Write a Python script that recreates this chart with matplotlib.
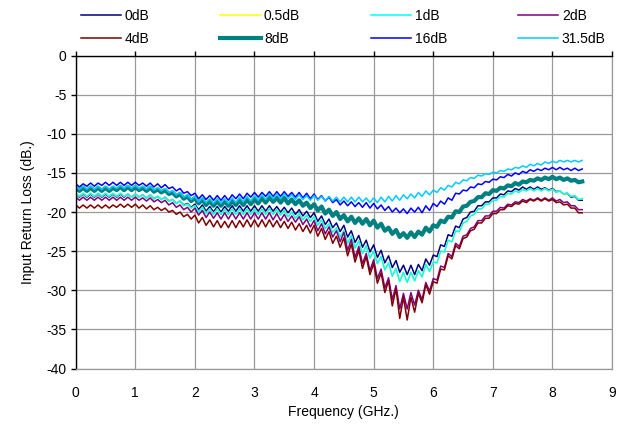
import numpy as np
import matplotlib.pyplot as plt

plt.rcParams['font.family'] = ['Liberation Sans', 'DejaVu Sans']
plt.rcParams['axes.unicode_minus'] = False

# frequency points (GHz), one every 1/16 GHz from 0 to 8.5
freq = np.linspace(0, 8.5, 137)

# input return loss (dB), one row per GHz
loss_0db = [
    -17.7, -18.1, -17.7, -18.1, -17.7, -18.1, -17.7, -18.1, -17.7, -18.1, -17.7, -18.1, -17.7, -18.1, -17.7, -18.1,
    -17.7, -18.1, -17.8, -18.2, -17.8, -18.3, -18.0, -18.4, -18.1, -18.6, -18.4, -18.9, -18.6, -19.1, -18.9, -19.4,
    -19.0, -19.7, -19.1, -19.9, -19.3, -20.0, -19.3, -20.0, -19.3, -19.9, -19.2, -19.9, -19.2, -19.9, -19.2, -19.9,
    -19.2, -19.9, -19.2, -19.9, -19.2, -19.9, -19.3, -20.0, -19.4, -20.1, -19.5, -20.3, -19.7, -20.5, -19.9, -20.7,
    -20.1, -21.2, -20.5, -21.6, -20.9, -22.0, -21.4, -22.5, -21.7, -23.2, -22.4, -23.9, -23.0, -24.5, -23.6, -25.1,
    -24.2, -25.8, -24.9, -26.5, -25.6, -27.1, -26.2, -27.7, -26.8, -28.0, -26.8, -28.0, -26.7, -27.5, -26.0, -26.8,
    -25.5, -25.7, -24.2, -24.4, -22.9, -23.1, -21.8, -22.0, -20.9, -20.7, -20.0, -19.9, -19.2, -19.2, -18.7, -18.7,
    -18.2, -18.2, -17.7, -17.8, -17.3, -17.4, -17.0, -17.2, -16.8, -17.1, -16.8, -17.1, -16.8, -17.1, -16.9, -17.2,
    -17.0, -17.4, -17.3, -17.7, -17.6, -18.1, -18.0, -18.5,
    -18.5,
]

loss_1db = [
    -17.6, -18.0, -17.6, -18.0, -17.6, -18.0, -17.6, -18.0, -17.6, -18.0, -17.6, -18.0, -17.6, -18.0, -17.7, -18.1,
    -17.7, -18.1, -17.8, -18.2, -17.8, -18.3, -18.0, -18.4, -18.1, -18.6, -18.4, -18.9, -18.6, -19.2, -19.0, -19.5,
    -19.2, -20.0, -19.4, -20.2, -19.6, -20.3, -19.6, -20.3, -19.7, -20.3, -19.6, -20.3, -19.6, -20.3, -19.6, -20.3,
    -19.6, -20.3, -19.6, -20.3, -19.6, -20.3, -19.7, -20.4, -19.8, -20.6, -20.0, -20.8, -20.2, -21.0, -20.4, -21.2,
    -20.6, -21.7, -21.0, -22.1, -21.5, -22.6, -22.0, -23.2, -22.4, -24.0, -23.0, -24.6, -23.7, -25.3, -24.3, -25.9,
    -25.0, -26.6, -25.7, -27.4, -26.5, -28.2, -27.2, -28.9, -27.7, -29.0, -27.7, -28.8, -27.5, -28.3, -26.7, -27.6,
    -26.4, -26.5, -25.0, -25.1, -23.6, -23.8, -22.4, -22.5, -21.4, -21.2, -20.5, -20.3, -19.6, -19.6, -19.0, -19.0,
    -18.5, -18.5, -18.0, -18.1, -17.6, -17.7, -17.3, -17.5, -17.1, -17.3, -17.0, -17.3, -17.0, -17.3, -17.0, -17.3,
    -17.1, -17.5, -17.3, -17.7, -17.6, -18.0, -17.9, -18.4,
    -18.3,
]

# the 0.5dB trace sits exactly under the 1dB trace (no yellow is visible)
loss_05db = list(loss_1db)

loss_2db = [
    -18.1, -18.5, -18.1, -18.5, -18.1, -18.5, -18.1, -18.5, -18.1, -18.5, -18.1, -18.5, -18.1, -18.5, -18.1, -18.5,
    -18.1, -18.5, -18.2, -18.6, -18.2, -18.7, -18.4, -18.8, -18.5, -19.1, -18.8, -19.4, -19.1, -19.7, -19.4, -20.0,
    -19.5, -20.4, -19.8, -20.7, -20.0, -20.8, -20.1, -20.9, -20.1, -20.9, -20.1, -20.9, -20.1, -20.9, -20.1, -20.9,
    -20.1, -20.9, -20.1, -20.9, -20.1, -21.0, -20.2, -21.1, -20.3, -21.2, -20.5, -21.3, -20.6, -21.6, -20.9, -21.9,
    -21.1, -22.4, -21.5, -22.8, -21.9, -23.2, -22.4, -23.8, -22.6, -24.9, -23.5, -25.8, -24.4, -26.6, -25.3, -27.5,
    -26.1, -28.5, -27.3, -29.7, -28.4, -31.2, -29.4, -32.4, -30.4, -32.4, -30.3, -31.9, -30.0, -31.2, -29.0, -30.1,
    -28.5, -28.7, -26.9, -27.1, -25.3, -25.7, -24.0, -24.4, -23.1, -22.9, -22.1, -21.9, -21.1, -21.1, -20.5, -20.5,
    -19.9, -19.9, -19.4, -19.5, -19.0, -19.1, -18.7, -18.8, -18.4, -18.6, -18.3, -18.5, -18.2, -18.5, -18.2, -18.5,
    -18.2, -18.6, -18.4, -18.8, -18.7, -19.2, -19.2, -19.7,
    -19.7,
]

loss_4db = [
    -19.1, -19.5, -19.1, -19.5, -19.1, -19.5, -19.1, -19.5, -19.1, -19.5, -19.1, -19.4, -19.0, -19.4, -19.0, -19.4,
    -19.0, -19.5, -19.1, -19.6, -19.2, -19.7, -19.4, -19.8, -19.5, -20.0, -19.8, -20.3, -20.0, -20.6, -20.3, -20.9,
    -20.4, -21.4, -20.7, -21.7, -21.0, -21.9, -21.1, -22.0, -21.2, -22.0, -21.1, -22.0, -21.1, -21.9, -21.0, -21.9,
    -21.0, -21.9, -21.0, -21.9, -21.0, -21.9, -21.1, -22.0, -21.2, -22.1, -21.3, -22.3, -21.5, -22.5, -21.7, -22.7,
    -21.7, -23.1, -22.1, -23.5, -22.5, -24.0, -23.1, -24.5, -23.3, -25.6, -24.1, -26.4, -24.9, -27.2, -25.7, -28.0,
    -26.6, -29.1, -27.8, -30.3, -28.8, -32.0, -29.8, -33.6, -30.9, -33.8, -30.9, -32.8, -30.4, -31.6, -29.3, -30.5,
    -28.9, -29.1, -27.3, -27.4, -25.6, -26.0, -24.3, -24.7, -23.4, -23.2, -22.4, -22.2, -21.4, -21.4, -20.8, -20.8,
    -20.2, -20.2, -19.7, -19.7, -19.2, -19.3, -18.9, -19.0, -18.6, -18.8, -18.4, -18.6, -18.3, -18.6, -18.3, -18.6,
    -18.4, -18.8, -18.7, -19.1, -19.0, -19.5, -19.5, -20.1,
    -20.1,
]

loss_8db = [
    -16.9, -17.3, -16.9, -17.3, -16.9, -17.3, -16.9, -17.3, -16.9, -17.3, -16.9, -17.2, -16.8, -17.2, -16.8, -17.2,
    -16.8, -17.2, -16.9, -17.3, -16.9, -17.4, -17.1, -17.5, -17.2, -17.7, -17.5, -18.0, -17.7, -18.3, -18.0, -18.6,
    -18.2, -18.9, -18.4, -19.1, -18.6, -19.2, -18.6, -19.2, -18.6, -19.2, -18.6, -19.1, -18.5, -19.1, -18.4, -19.0,
    -18.3, -18.9, -18.2, -18.8, -18.1, -18.7, -18.2, -18.8, -18.2, -18.9, -18.4, -19.0, -18.5, -19.2, -18.8, -19.5,
    -19.0, -19.8, -19.3, -20.2, -19.7, -20.5, -20.0, -20.9, -20.4, -21.2, -20.6, -21.4, -20.8, -21.5, -20.9, -21.7,
    -21.1, -22.0, -21.5, -22.4, -22.0, -22.8, -22.3, -23.2, -22.7, -23.3, -22.6, -23.2, -22.5, -22.9, -22.0, -22.5,
    -21.7, -21.9, -21.1, -21.3, -20.6, -20.7, -19.9, -20.0, -19.3, -19.2, -18.7, -18.6, -18.1, -18.1, -17.6, -17.7,
    -17.2, -17.3, -16.9, -17.0, -16.6, -16.7, -16.3, -16.5, -16.1, -16.2, -15.9, -16.0, -15.7, -15.9, -15.6, -15.8,
    -15.5, -15.8, -15.6, -15.9, -15.7, -16.0, -15.9, -16.2,
    -16.1,
]

loss_16db = [
    -16.4, -16.8, -16.4, -16.7, -16.3, -16.7, -16.3, -16.6, -16.2, -16.6, -16.2, -16.6, -16.2, -16.6, -16.2, -16.6,
    -16.2, -16.6, -16.3, -16.7, -16.3, -16.8, -16.4, -16.9, -16.5, -17.0, -16.8, -17.3, -17.0, -17.6, -17.4, -17.9,
    -17.6, -18.3, -17.8, -18.4, -17.9, -18.5, -17.9, -18.5, -17.9, -18.5, -17.8, -18.3, -17.7, -18.3, -17.6, -18.1,
    -17.5, -18.1, -17.5, -18.0, -17.4, -18.0, -17.4, -18.0, -17.4, -18.0, -17.5, -18.1, -17.5, -18.2, -17.6, -18.3,
    -17.7, -18.4, -17.9, -18.6, -18.1, -18.8, -18.4, -19.1, -18.6, -19.2, -18.7, -19.3, -18.8, -19.4, -18.8, -19.5,
    -18.9, -19.6, -19.1, -19.8, -19.3, -20.0, -19.5, -20.1, -19.6, -20.2, -19.5, -20.0, -19.4, -20.1, -19.2, -19.8,
    -18.9, -19.3, -18.6, -19.0, -18.2, -18.5, -17.6, -17.7, -17.2, -17.3, -16.8, -16.9, -16.4, -16.5, -16.1, -16.2,
    -15.8, -15.9, -15.5, -15.6, -15.2, -15.4, -15.0, -15.2, -14.8, -15.0, -14.6, -14.8, -14.5, -14.7, -14.4, -14.6,
    -14.3, -14.6, -14.3, -14.6, -14.4, -14.7, -14.4, -14.7,
    -14.5,
]

loss_31db = [
    -16.7, -17.1, -16.7, -17.1, -16.7, -17.1, -16.7, -17.1, -16.7, -17.1, -16.7, -17.0, -16.6, -17.0, -16.6, -17.0,
    -16.6, -17.0, -16.7, -17.1, -16.7, -17.2, -16.9, -17.3, -17.0, -17.5, -17.3, -17.8, -17.5, -18.1, -17.8, -18.4,
    -18.0, -18.7, -18.2, -18.8, -18.3, -18.9, -18.3, -18.9, -18.3, -18.9, -18.2, -18.8, -18.1, -18.7, -18.0, -18.6,
    -17.9, -18.5, -17.8, -18.4, -17.7, -18.3, -17.7, -18.3, -17.7, -18.3, -17.8, -18.4, -17.8, -18.4, -17.9, -18.5,
    -17.9, -18.5, -18.0, -18.6, -18.0, -18.6, -18.1, -18.7, -18.1, -18.7, -18.1, -18.7, -18.1, -18.7, -18.2, -18.8,
    -18.2, -18.8, -18.1, -18.7, -18.0, -18.6, -17.9, -18.5, -17.8, -18.3, -17.7, -18.2, -17.5, -18.0, -17.3, -17.8,
    -17.2, -17.5, -16.9, -17.2, -16.6, -16.8, -16.2, -16.4, -15.9, -16.0, -15.6, -15.7, -15.3, -15.4, -15.1, -15.2,
    -14.9, -15.0, -14.7, -14.8, -14.5, -14.6, -14.3, -14.4, -14.1, -14.3, -13.9, -14.1, -13.8, -14.0, -13.6, -13.8,
    -13.5, -13.7, -13.4, -13.6, -13.4, -13.6, -13.4, -13.6,
    -13.4,
]

labels = ["0dB", "0.5dB", "1dB", "2dB", "4dB", "8dB", "16dB", "31.5dB"]
traces = [loss_0db, loss_05db, loss_1db, loss_2db, loss_4db, loss_8db, loss_16db, loss_31db]
colors = ["#000080", "#FFFF00", "#00FFFF", "#800080", "#800000", "#008080", "#0000FF", "#00CCFF"]
widths = [1.1, 1.1, 1.1, 1.1, 1.1, 3.0, 1.1, 1.1]

fig = plt.figure(figsize=(6.32, 4.28), dpi=100)
ax = fig.add_axes([0.1198, 0.139, 0.8486, 0.7313])

lines = []
for lab, vals, col, lw in zip(labels, traces, colors, widths):
    ln, = ax.plot(freq, vals, color=col, lw=lw, label=lab)
    lines.append(ln)

ax.set_xlim(0, 9)
ax.set_ylim(-40, 0)
ax.set_xticks(range(0, 10))
ax.set_yticks(range(-40, 1, 5))
ax.grid(True, color='#999999', lw=0.9)
ax.set_axisbelow(True)

ax.spines['left'].set_color('black')
ax.spines['top'].set_color('black')
ax.spines['left'].set_linewidth(1.0)
ax.spines['top'].set_linewidth(1.0)
ax.spines['right'].set_color('#999999')
ax.spines['bottom'].set_color('#999999')
ax.spines['right'].set_linewidth(0.9)
ax.spines['bottom'].set_linewidth(0.9)

ax.tick_params(axis='x', top=True, bottom=False, labeltop=False, labelbottom=True,
               direction='out', length=3.5, width=1.0, pad=9, labelsize=10)
ax.tick_params(axis='y', left=True, right=False, direction='out', length=3.5,
               width=1.0, pad=3, labelsize=10)

ax.set_xlabel("Frequency (GHz.)", fontsize=10, labelpad=4)
ax.set_ylabel("Input Return Loss (dB.)", fontsize=10, labelpad=8)

# legend: 2 rows x 4 columns, filled row by row
order = [0, 4, 1, 5, 2, 6, 3, 7]
fig.legend([lines[i] for i in order], [labels[i] for i in order],
           loc='upper left', bbox_to_anchor=(0.128, 0.98), ncol=4, frameon=False,
           fontsize=10, handlelength=2.9, handletextpad=0.25, columnspacing=5.1,
           labelspacing=0.67, borderpad=0, borderaxespad=0)

fig.savefig("out.png", dpi=100)
